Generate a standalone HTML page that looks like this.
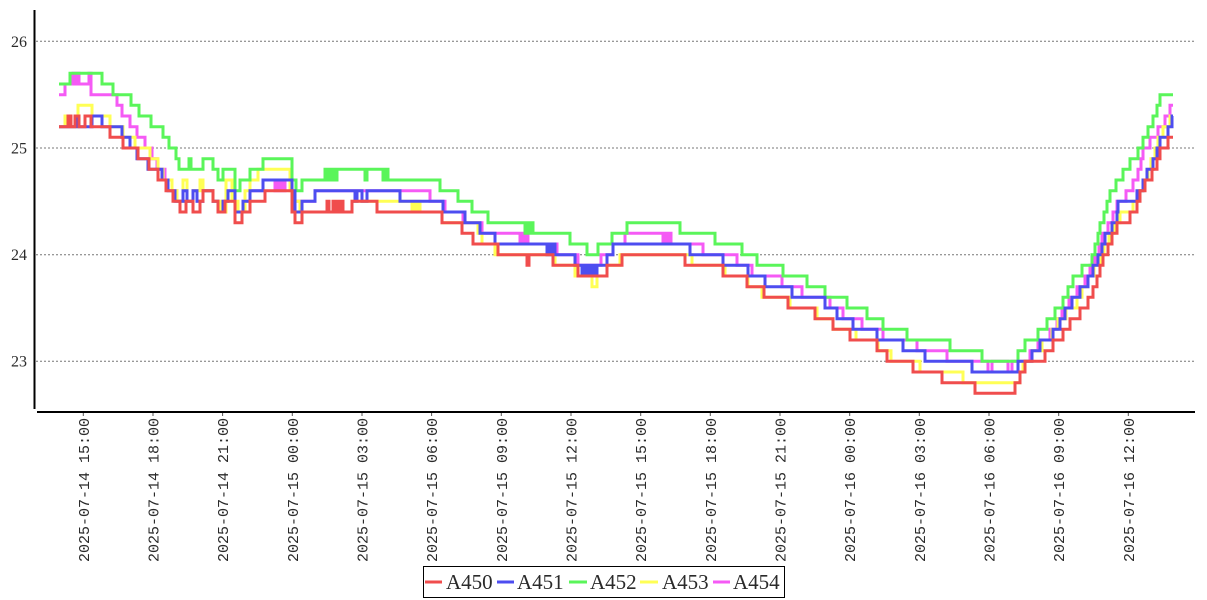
<!DOCTYPE html>
<html><head><meta charset="utf-8"><style>
html,body{margin:0;padding:0;background:#fff;}
svg{display:block;}
.yl{font-family:"Liberation Serif",serif;font-size:16px;fill:#2a2a2a;}
.xl{font-family:"Liberation Mono",monospace;font-size:15px;fill:#2a2a2a;}
.lg{font-family:"Liberation Serif",serif;font-size:21px;fill:#2a2a2a;}
.s{fill:none;stroke-width:3;stroke-linejoin:miter;}
</style></head><body>
<svg width="1207" height="600" viewBox="0 0 1207 600" xmlns="http://www.w3.org/2000/svg">
<rect width="1207" height="600" fill="#fff"/>
<g stroke="#777" stroke-width="1" stroke-dasharray="2,2">
<line x1="36" y1="41.3" x2="1195" y2="41.3"/>
<line x1="36" y1="148" x2="1195" y2="148"/>
<line x1="36" y1="254.7" x2="1195" y2="254.7"/>
<line x1="36" y1="361.3" x2="1195" y2="361.3"/>
</g>
<text class="yl" x="27" y="47" text-anchor="end">26</text>
<text class="yl" x="27" y="153.5" text-anchor="end">25</text>
<text class="yl" x="27" y="260" text-anchor="end">24</text>
<text class="yl" x="27" y="366.5" text-anchor="end">23</text>

<path class="s" stroke="#f55af5" d="M59 94.7 H65 V84 H73 V73.3 H75 V84 H77 V73.3 H79 V84 H89 V73.3 H91 V94.7 H117 V105.3 H122 V116 H130 V126.7 H137 V137.3 H145 V148 H152 V158.7 H157 V169.3 H165 V180 H172 V190.7 H177 V201.3 H183 V190.7 H187 V201.3 H193 V190.7 H197 V201.3 H203 V190.7 H213 V201.3 H218 V212 H223 V201.3 H228 V190.7 H235 V212 H243 V201.3 H250 V190.7 H263 V180 H275 V190.7 H277 V180 H279 V190.7 H281 V180 H283 V190.7 H285 V180 H292 V201.3 H315 V190.7 H430 V201.3 H445 V212 H463 V222.7 H482 V233.3 H520 V244 H522 V233.3 H524 V244 H526 V233.3 H528 V244 H557 V254.7 H578 V265.3 H601 V254.7 H613 V244 H625 V233.3 H663 V244 H665 V233.3 H667 V244 H669 V233.3 H671 V244 H703 V254.7 H737 V265.3 H752 V276 H782 V286.7 H802 V297.3 H830 V308 H843 V318.7 H862 V329.3 H883 V340 H917 V350.7 H947 V361.3 H988 V372 H992 V361.3 H1008 V372 H1012 V361.3 H1030 V350.7 H1038 V340 H1050 V329.3 H1057 V318.7 H1062 V308 H1069 V297.3 H1077 V286.7 H1085 V276 H1090 V265.3 H1095 V254.7 H1099 V244 H1102 V233.3 H1108 V222.7 H1113 V212 H1117 V201.3 H1126 V190.7 H1133 V180 H1138 V169.3 H1141 V158.7 H1143 V148 H1150 V137.3 H1158 V126.7 H1165 V116 H1170 V105.3 H1173"/>

<path class="s" stroke="#ffff55" d="M59 126.7 H65 V116 H68 V126.7 H78 V105.3 H92 V116 H110 V126.7 H123 V137.3 H135 V148 H150 V158.7 H158 V169.3 H163 V180 H172 V190.7 H177 V201.3 H183 V180 H187 V201.3 H193 V190.7 H200 V180 H203 V190.7 H213 V201.3 H220 V212 H226 V180 H232 V201.3 H238 V212 H245 V190.7 H250 V180 H258 V169.3 H290 V190.7 H295 V201.3 H300 V212 H352 V201.3 H412 V212 H414 V201.3 H416 V212 H418 V201.3 H420 V212 H442 V222.7 H478 V233.3 H482 V244 H495 V254.7 H555 V265.3 H575 V276 H592 V286.7 H597 V276 H607 V265.3 H620 V254.7 H692 V265.3 H725 V276 H748 V286.7 H762 V297.3 H790 V308 H817 V318.7 H833 V329.3 H856 V340 H878 V350.7 H891 V361.3 H920 V372 H963 V382.7 H1020 V372 H1023 V361.3 H1032 V350.7 H1042 V340 H1052 V329.3 H1058 V318.7 H1066 V308 H1077 V297.3 H1082 V286.7 H1088 V276 H1094 V265.3 H1100 V254.7 H1104 V244 H1109 V233.3 H1114 V222.7 H1120 V212 H1133 V201.3 H1138 V190.7 H1143 V180 H1148 V169.3 H1151 V158.7 H1155 V148 H1158 V137.3 H1163 V126.7 H1170 V116 H1173"/>

<path class="s" stroke="#5af55a" d="M59 84 H70 V73.3 H102 V84 H113 V94.7 H131 V105.3 H139 V116 H151 V126.7 H163 V137.3 H169 V148 H176 V158.7 H179 V169.3 H189 V158.7 H191 V169.3 H203 V158.7 H213 V169.3 H218 V180 H223 V169.3 H235 V190.7 H240 V180 H250 V169.3 H263 V158.7 H292 V180 H296 V190.7 H302 V180 H325 V169.3 H327 V180 H329 V169.3 H331 V180 H333 V169.3 H335 V180 H337 V169.3 H365 V180 H367 V169.3 H383 V180 H385 V169.3 H388 V180 H440 V190.7 H458 V201.3 H472 V212 H488 V222.7 H525 V233.3 H527 V222.7 H529 V233.3 H531 V222.7 H533 V233.3 H570 V244 H587 V254.7 H598 V244 H612 V233.3 H627 V222.7 H680 V233.3 H715 V244 H742 V254.7 H757 V265.3 H783 V276 H807 V286.7 H825 V297.3 H847 V308 H867 V318.7 H883 V329.3 H907 V340 H950 V350.7 H982 V361.3 H1018 V350.7 H1025 V340 H1038 V329.3 H1047 V318.7 H1055 V308 H1063 V297.3 H1068 V286.7 H1073 V276 H1082 V265.3 H1092 V254.7 H1095 V244 H1098 V233.3 H1100 V222.7 H1104 V212 H1107 V201.3 H1110 V190.7 H1116 V180 H1123 V169.3 H1130 V158.7 H1138 V148 H1143 V137.3 H1148 V126.7 H1153 V116 H1157 V105.3 H1160 V94.7 H1173"/>

<path class="s" stroke="#4d4df0" d="M59 126.7 H75 V116 H78 V126.7 H92 V116 H102 V126.7 H122 V137.3 H130 V148 H137 V158.7 H148 V169.3 H162 V180 H168 V190.7 H175 V201.3 H183 V190.7 H187 V201.3 H193 V190.7 H197 V201.3 H203 V190.7 H213 V201.3 H218 V212 H223 V201.3 H228 V190.7 H235 V212 H243 V201.3 H250 V190.7 H263 V180 H292 V190.7 H295 V212 H302 V201.3 H315 V190.7 H355 V201.3 H357 V190.7 H362 V201.3 H367 V190.7 H400 V201.3 H443 V212 H465 V222.7 H480 V233.3 H495 V244 H547 V254.7 H549 V244 H551 V254.7 H553 V244 H555 V254.7 H575 V265.3 H582 V276 H584 V265.3 H586 V276 H588 V265.3 H590 V276 H592 V265.3 H594 V276 H597 V265.3 H607 V254.7 H613 V244 H690 V254.7 H723 V265.3 H748 V276 H765 V286.7 H792 V297.3 H825 V308 H837 V318.7 H853 V329.3 H877 V340 H903 V350.7 H925 V361.3 H972 V372 H1018 V361.3 H1032 V350.7 H1040 V340 H1053 V329.3 H1060 V318.7 H1065 V308 H1072 V297.3 H1080 V286.7 H1088 V276 H1093 V265.3 H1098 V254.7 H1102 V244 H1105 V233.3 H1112 V222.7 H1117 V212 H1118 V201.3 H1137 V190.7 H1143 V180 H1147 V169.3 H1153 V158.7 H1157 V148 H1160 V137.3 H1168 V126.7 H1172 V116 H1173"/>

<path class="s" stroke="#f04d4d" d="M59 126.7 H68 V116 H71 V126.7 H75 V116 H79 V126.7 H85 V116 H91 V126.7 H110 V137.3 H123 V148 H138 V158.7 H149 V169.3 H158 V180 H166 V190.7 H173 V201.3 H180 V212 H186 V201.3 H193 V212 H200 V201.3 H203 V190.7 H213 V201.3 H218 V212 H225 V201.3 H235 V222.7 H242 V212 H250 V201.3 H265 V190.7 H292 V212 H295 V222.7 H302 V212 H327 V201.3 H329 V212 H333 V201.3 H335 V212 H337 V201.3 H339 V212 H341 V201.3 H343 V212 H352 V201.3 H377 V212 H442 V222.7 H462 V233.3 H473 V244 H498 V254.7 H527 V265.3 H529 V254.7 H553 V265.3 H578 V276 H607 V265.3 H622 V254.7 H685 V265.3 H723 V276 H747 V286.7 H764 V297.3 H788 V308 H815 V318.7 H833 V329.3 H850 V340 H877 V350.7 H887 V361.3 H913 V372 H942 V382.7 H975 V393.3 H1015 V382.7 H1020 V372 H1025 V361.3 H1045 V350.7 H1053 V340 H1063 V329.3 H1070 V318.7 H1080 V308 H1088 V297.3 H1093 V286.7 H1097 V276 H1100 V265.3 H1103 V254.7 H1108 V244 H1112 V233.3 H1117 V222.7 H1130 V212 H1137 V201.3 H1140 V190.7 H1145 V180 H1152 V169.3 H1157 V158.7 H1160 V148 H1168 V137.3 H1173"/>

<line x1="34.5" y1="10" x2="34.5" y2="409" stroke="#000" stroke-width="2"/>
<line x1="37" y1="412" x2="1195" y2="412" stroke="#000" stroke-width="2"/>
<g stroke="#555" stroke-width="1">
<line x1="83.3" y1="413" x2="83.3" y2="416"/><line x1="153" y1="413" x2="153" y2="416"/>
<line x1="222.6" y1="413" x2="222.6" y2="416"/><line x1="292.3" y1="413" x2="292.3" y2="416"/>
<line x1="362" y1="413" x2="362" y2="416"/><line x1="431.6" y1="413" x2="431.6" y2="416"/>
<line x1="501.3" y1="413" x2="501.3" y2="416"/><line x1="571" y1="413" x2="571" y2="416"/>
<line x1="640.7" y1="413" x2="640.7" y2="416"/><line x1="710.3" y1="413" x2="710.3" y2="416"/>
<line x1="780" y1="413" x2="780" y2="416"/><line x1="849.7" y1="413" x2="849.7" y2="416"/>
<line x1="919.3" y1="413" x2="919.3" y2="416"/><line x1="989" y1="413" x2="989" y2="416"/>
<line x1="1058.7" y1="413" x2="1058.7" y2="416"/><line x1="1128.3" y1="413" x2="1128.3" y2="416"/>
</g>
<g class="xl" text-anchor="end">
<text transform="translate(88.8,418) rotate(-90)">2025-07-14 15:00</text>
<text transform="translate(158.5,418) rotate(-90)">2025-07-14 18:00</text>
<text transform="translate(228.1,418) rotate(-90)">2025-07-14 21:00</text>
<text transform="translate(297.8,418) rotate(-90)">2025-07-15 00:00</text>
<text transform="translate(367.5,418) rotate(-90)">2025-07-15 03:00</text>
<text transform="translate(437.1,418) rotate(-90)">2025-07-15 06:00</text>
<text transform="translate(506.8,418) rotate(-90)">2025-07-15 09:00</text>
<text transform="translate(576.5,418) rotate(-90)">2025-07-15 12:00</text>
<text transform="translate(646.2,418) rotate(-90)">2025-07-15 15:00</text>
<text transform="translate(715.8,418) rotate(-90)">2025-07-15 18:00</text>
<text transform="translate(785.5,418) rotate(-90)">2025-07-15 21:00</text>
<text transform="translate(855.2,418) rotate(-90)">2025-07-16 00:00</text>
<text transform="translate(924.8,418) rotate(-90)">2025-07-16 03:00</text>
<text transform="translate(994.5,418) rotate(-90)">2025-07-16 06:00</text>
<text transform="translate(1064.2,418) rotate(-90)">2025-07-16 09:00</text>
<text transform="translate(1133.8,418) rotate(-90)">2025-07-16 12:00</text>
</g>

<rect x="423.5" y="566.5" width="361" height="31" fill="#fff" stroke="#000" stroke-width="1"/>
<g stroke-width="3">
<line x1="425" y1="582" x2="442" y2="582" stroke="#f04d4d"/>
<line x1="497" y1="582" x2="514" y2="582" stroke="#4d4df0"/>
<line x1="569" y1="582" x2="587" y2="582" stroke="#5af55a"/>
<line x1="640" y1="582" x2="658" y2="582" stroke="#ffff55"/>
<line x1="713" y1="582" x2="730" y2="582" stroke="#f55af5"/>
</g>
<text class="lg" x="446" y="589">A450</text>
<text class="lg" x="517" y="589">A451</text>
<text class="lg" x="590" y="589">A452</text>
<text class="lg" x="662" y="589">A453</text>
<text class="lg" x="733" y="589">A454</text>
</svg>
</body></html>
